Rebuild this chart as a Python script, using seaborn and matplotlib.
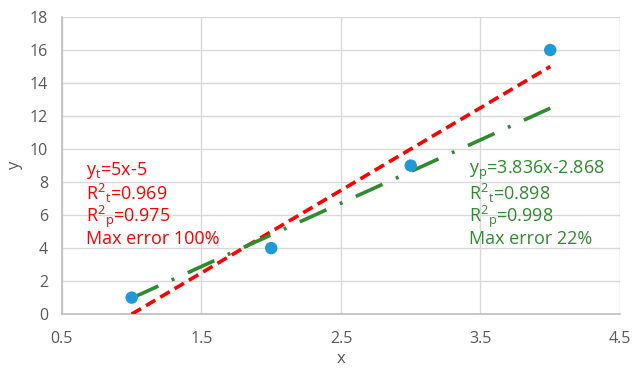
import numpy as np
import pandas as pd
import seaborn as sns
import matplotlib
matplotlib.use("Agg")
import matplotlib.pyplot as plt

x_pts = [1, 2, 3, 4]
y_pts = [1, 4, 9, 16]
line_x = [1, 4]
red_slope, red_icpt = 5.0, -5.0
green_slope, green_icpt = 3.836, -2.868
red_labels = [r"$\mathregular{y_t}$=5x-5", r"$\mathregular{R^2{}_t}$=0.969",
              r"$\mathregular{R^2{}_p}$=0.975", "Max error 100%"]
green_labels = [r"$\mathregular{y_p}$=3.836x-2.868", r"$\mathregular{R^2{}_t}$=0.898",
                r"$\mathregular{R^2{}_p}$=0.998", "Max error 22%"]
xticks = [0.5, 1.5, 2.5, 3.5, 4.5]
yticks = [0, 2, 4, 6, 8, 10, 12, 14, 16, 18]

sns.set_theme(style="white")
plt.rcParams['font.family'] = ['Open Sans', 'DejaVu Sans']

fig = plt.figure(figsize=(6.32, 3.70), dpi=100)
ax = fig.add_axes([0.098, 0.151, 0.883, 0.803])

df_pts = pd.DataFrame({"x": x_pts, "y": y_pts})
lx = np.array(line_x, dtype=float)
df_red = pd.DataFrame({"x": lx, "y": red_slope * lx + red_icpt})
df_green = pd.DataFrame({"x": lx, "y": green_slope * lx + green_icpt})

sns.lineplot(data=df_red, x="x", y="y", ax=ax, color="#ff0000", lw=2.6, zorder=3)
ax.lines[-1].set_dashes([3, 1.6])
sns.lineplot(data=df_green, x="x", y="y", ax=ax, color="#2e8b2e", lw=2.6, zorder=3)
ax.lines[-1].set_dashes([8.1, 4.07, 0.8, 4.07])
sns.scatterplot(data=df_pts, x="x", y="y", ax=ax, color="#1f9ad6", s=80,
                edgecolor="none", zorder=4)

ax.set_xlim(0.5, 4.5)
ax.set_ylim(0, 18)
ax.set_xticks(xticks)
ax.set_xticklabels([str(t) for t in xticks])
ax.set_yticks(yticks)
ax.grid(True, color="#d9d9d9", lw=1)
ax.set_axisbelow(True)
for s in ["top", "right"]:
    ax.spines[s].set_visible(False)
ax.spines["left"].set_color("#bfbfbf")
ax.spines["bottom"].set_color("#bfbfbf")
ax.tick_params(axis="x", labelsize=11.5, colors="#595959", length=0, pad=12)
ax.tick_params(axis="y", labelsize=11.5, colors="#595959", length=0, pad=10)
ax.set_xlabel("x", fontsize=12, color="#595959", labelpad=3)
ax.set_ylabel("y", fontsize=12, color="#595959", labelpad=5)

for i, t in enumerate(red_labels):
    ax.text(0.67, 8.7 - i * 1.39, t, color="#ff0000", fontsize=13, va="center")
for i, t in enumerate(green_labels):
    ax.text(3.42, 8.7 - i * 1.39, t, color="#2e8b2e", fontsize=13, va="center")

fig.savefig("out.png", dpi=100, facecolor="white")
